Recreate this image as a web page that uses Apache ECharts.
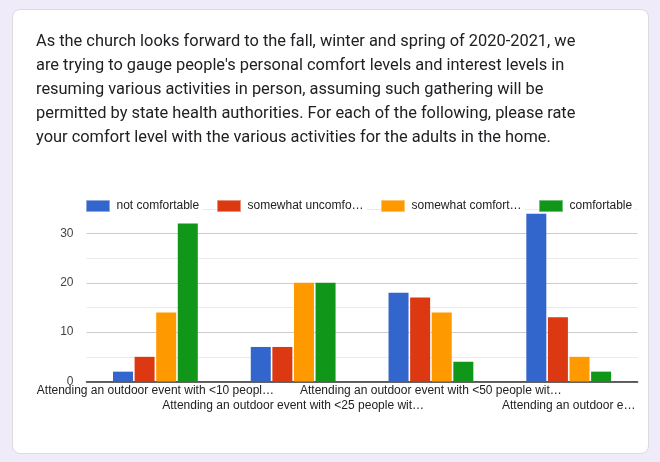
<!DOCTYPE html>
<html>
<head>
<meta charset="utf-8">
<script src="https://cdn.jsdelivr.net/npm/echarts@6/dist/echarts.min.js"></script>
<style>
  html, body { margin:0; padding:0; background:#f0ebf8; width:660px; height:462px; overflow:hidden; }
  #card { position:absolute; left:12px; top:9px; width:637px; height:445px; background:#fff; border:1px solid #dadce0; border-radius:8px; box-sizing:border-box; }
  #chart { position:absolute; left:0; top:0; width:660px; height:462px; }
</style>
</head>
<body>
<div id="card"></div>
<div id="chart"></div>
<script>
const questionText = [
  "As the church looks forward to the fall, winter and spring of 2020-2021, we",
  "are trying to gauge people's personal comfort levels and interest levels in",
  "resuming various activities in person, assuming such gathering will be",
  "permitted by state health authorities. For each of the following, please rate",
  "your comfort level with the various activities for the adults in the home."
];
const categories = [
  "Attending an outdoor event with <10 peopl…",
  "Attending an outdoor event with <25 people wit…",
  "Attending an outdoor event with <50 people wit…",
  "Attending an outdoor e…"
];
const seriesNames = ["not comfortable", "somewhat uncomfortable", "somewhat comfortable", "comfortable"];
const legendLabels = ["not comfortable", "somewhat uncomfo…", "somewhat comfort…", "comfortable"];
const notComfortable = [2, 7, 18, 34];
const somewhatUncomfortable = [5, 7, 17, 13];
const somewhatComfortable = [14, 20, 14, 5];
const comfortable = [32, 20, 4, 2];
const yTicks = [0, 10, 20, 30];

const colors = ["#3366cc", "#dc3912", "#ff9900", "#109618"];
const borderColors = ["#8fa8e0", "#ec8e78", "#ffc266", "#70c078"];
const values = [notComfortable, somewhatUncomfortable, somewhatComfortable, comfortable];
const legendLeft = [86, 217, 381, 539];

const chart = echarts.init(document.getElementById('chart'));
const legends = seriesNames.map((n, i) => ({
  data: [n],
  left: legendLeft[i],
  top: 200,
  padding: [0, 3, 0, 0],
  backgroundColor: '#fff',
  itemWidth: 23,
  itemHeight: 11,
  icon: 'rect',
  selectedMode: false,
  itemStyle: { borderColor: borderColors[i], borderWidth: 1 },
  formatter: () => legendLabels[i],
  textStyle: { fontFamily: 'Liberation Sans, Arial', fontSize: 12, color: '#222', padding: [0, 0, 0, 2] }
}));

chart.setOption({
  animation: false,
  color: colors,
  title: {
    text: questionText.join('\n'),
    left: 36, top: 30, padding: 0,
    textStyle: { fontFamily: 'Roboto', fontSize: 16.4, fontWeight: 'normal', color: '#202124', lineHeight: 24 }
  },
  legend: legends,
  grid: { left: 86.5, right: 22.4, top: 208.8, bottom: 80.5, containLabel: false },
  xAxis: {
    type: 'category',
    data: categories,
    axisLine: { show: true, lineStyle: { color: '#333', width: 1.5 } },
    axisTick: { show: false },
    axisLabel: {
      interval: 0, margin: 2,
      fontFamily: 'Liberation Sans, Arial', fontSize: 12, color: '#222', lineHeight: 15,
      formatter: (v, i) => (i % 2 ? '\n' + v : v)
    }
  },
  yAxis: {
    type: 'value', min: 0, max: 35, interval: 5,
    axisLine: { show: false }, axisTick: { show: false },
    axisLabel: {
      margin: 13, fontFamily: 'Liberation Sans, Arial', fontSize: 12, color: '#444',
      formatter: v => (yTicks.indexOf(v) >= 0 ? String(v) : '')
    },
    splitLine: { lineStyle: { color: ['#cccccc', '#ebebeb'], width: 1 } }
  },
  series: seriesNames.map((n, i) => ({
    name: n, type: 'bar', data: values[i],
    barWidth: 20, barGap: '8%',
    itemStyle: { color: colors[i] }
  }))
});
</script>
</body>
</html>
